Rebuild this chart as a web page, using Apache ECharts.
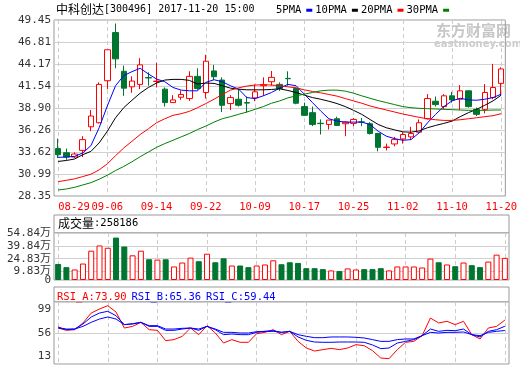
<!DOCTYPE html>
<html>
<head>
<meta charset="utf-8">
<script src="https://cdn.jsdelivr.net/npm/echarts@6/dist/echarts.min.js"></script>
<style>
html, body { margin: 0; padding: 0; background: #fff; }
#main { width: 520px; height: 365px; }
</style>
</head>
<body>
<div id="main"></div>
<script>
const dates = ['08-29','08-30','08-31','09-01','09-04','09-05','09-06','09-07','09-08','09-11','09-12','09-13','09-14','09-15',
  '09-18','09-19','09-20','09-21','09-22','09-25','09-26','09-27','09-28','09-29','10-09','10-10','10-11','10-12','10-13',
  '10-16','10-17','10-18','10-19','10-20','10-23','10-24','10-25','10-26','10-27','10-30','10-31','11-01','11-02','11-03',
  '11-06','11-07','11-08','11-09','11-10','11-13','11-14','11-15','11-16','11-17','11-20']

const opens = [34.03,33.54,33.02,33.82,36.65,37.13,42.17,47.94,43.30,41.44,41.73,42.56,42.08,41.16,39.55,40.19,40.03,42.69,40.76,43.34,
  42.25,39.43,39.95,39.55,40.11,41.57,42.05,41.73,42.45,41.24,39.07,38.34,37.07,36.93,37.61,37.01,37.05,37.23,37.01,35.84,
  34.17,34.59,35.19,35.44,36.00,37.61,39.71,39.07,40.36,39.95,40.96,38.74,38.74,40.15,41.85]
const closes = [33.30,33.02,33.38,35.11,37.94,41.73,45.88,44.79,41.28,42.13,44.07,42.50,42.12,39.55,39.87,40.52,42.69,41.24,44.51,42.65,
  39.23,40.15,39.23,39.49,40.84,41.69,42.57,41.24,42.41,39.47,38.02,36.93,37.03,37.45,36.81,37.21,37.53,37.21,35.84,34.19,
  34.21,35.11,35.72,35.84,37.13,40.03,39.31,40.36,39.87,40.96,39.07,38.14,40.76,41.36,43.58]
const lows = [32.90,32.69,32.90,33.02,36.12,37.05,41.16,43.66,40.36,40.72,41.16,41.57,41.36,39.07,39.55,39.87,39.75,41.08,40.03,42.25,
  38.42,38.66,39.07,38.34,39.71,40.36,41.57,40.96,41.57,39.35,37.94,36.73,35.72,36.32,36.73,35.52,36.73,36.73,35.72,33.70,
  33.82,34.31,34.63,35.11,35.92,37.53,39.07,38.74,39.55,38.66,38.95,37.94,38.26,39.95,40.44]
const highs = [35.23,34.03,33.58,35.52,38.66,41.97,45.88,49.03,43.98,42.69,44.87,43.18,44.31,41.36,40.44,41.00,43.30,43.66,45.28,44.07,
  42.57,40.44,41.08,40.28,41.73,42.57,43.34,41.97,43.30,41.36,39.55,39.07,37.53,37.45,37.86,37.33,37.69,37.69,37.21,35.92,
  34.63,35.44,36.00,36.65,37.53,40.56,40.28,40.56,40.84,41.65,41.00,38.95,41.77,44.19,43.78]

const ma5 = [32.98,33.02,33.10,33.50,34.39,36.53,39.15,41.57,42.78,43.26,43.66,42.98,42.37,42.05,41.36,41.04,40.96,40.96,41.97,42.29,
  42.05,41.57,41.16,40.15,40.03,40.36,40.76,41.28,41.73,41.57,40.56,39.55,38.54,37.61,37.33,37.21,37.21,37.21,36.93,36.12,
  35.52,35.23,35.03,35.11,35.92,37.10,38.14,39.07,39.75,40.07,39.87,39.83,39.95,40.15,40.56]
const ma10 = [32.49,32.61,32.78,33.30,33.70,34.71,36.12,37.73,38.94,39.83,40.68,41.36,41.89,42.25,42.33,42.33,42.21,41.77,41.89,41.85,
  41.57,41.28,41.16,41.08,41.08,41.08,41.12,41.20,41.00,40.76,40.44,40.15,39.95,39.71,39.43,39.07,38.62,38.14,37.53,36.93,
  36.53,36.28,36.04,36.00,36.16,36.53,36.81,37.05,37.33,37.86,38.34,38.74,39.23,39.75,40.44]
const ma20 = [30.07,30.23,30.40,30.68,30.96,31.48,32.21,33.18,34.11,34.91,35.72,36.40,37.13,37.61,38.02,38.22,38.50,38.94,39.43,39.95,
  40.52,41.04,41.32,41.53,41.65,41.69,41.65,41.57,41.44,41.32,41.08,40.88,40.72,40.52,40.32,40.03,39.75,39.47,39.15,38.90,
  38.66,38.42,38.18,37.98,37.78,37.61,37.49,37.41,37.41,37.49,37.61,37.73,37.86,37.98,38.22]
const ma30 = [29.07,29.19,29.39,29.67,29.95,30.36,30.84,31.40,31.89,32.45,33.06,33.62,34.19,34.63,35.03,35.44,35.84,36.32,36.73,37.21,
  37.61,37.86,38.14,38.42,38.74,39.07,39.47,39.75,40.11,40.36,40.56,40.76,40.96,41.04,41.04,40.92,40.68,40.36,40.07,39.79,
  39.55,39.31,39.07,38.94,38.86,38.82,38.78,38.74,38.70,38.66,38.62,38.62,38.62,38.66,38.66]

// 成交量, 万手
const volumes = [18.7,15.0,12.3,19.2,34.2,40.3,37.6,49.5,39.1,28.8,34.2,24.2,23.8,24.2,15.8,20.4,26.1,21.9,30.7,20.7,
  25.3,16.9,16.9,15.0,16.9,18.1,23.0,18.4,20.7,19.9,13.8,13.8,12.7,11.2,10.4,13.5,12.3,12.7,12.7,13.8,
  11.2,15.8,15.8,15.8,14.6,25.0,20.7,18.1,16.1,20.4,17.3,15.0,21.5,29.6,25.82]

const rsiA = [62.9,59.7,60.6,69.9,83.7,89.3,93.9,85.1,62.9,65.2,70.8,60.6,59.7,45.4,46.8,51.4,62.9,53.7,66.2,56.0,
  42.1,46.8,43.1,43.1,55.1,56.9,60.6,53.7,58.3,44.4,35.2,31.0,32.9,34.7,32.9,35.2,39.8,38.4,31.5,21.3,
  20.4,32.9,43.1,44.4,52.3,76.8,69.9,72.2,67.6,72.2,53.7,47.7,62.9,65.2,73.90]
const rsiB = [64.3,60.6,61.5,68.5,78.2,83.7,86.1,80.0,67.6,68.5,70.8,65.2,65.2,59.7,59.7,61.5,62.9,59.7,65.2,60.6,
  53.7,54.6,53.7,53.7,56.9,58.3,59.2,56.9,58.3,50.5,45.8,43.5,43.1,43.1,43.5,43.5,43.5,43.1,39.4,34.3,
  35.2,42.1,44.4,46.8,52.3,61.5,58.3,59.7,59.2,61.5,53.7,50.5,58.3,60.6,65.36]
const rsiC = [62.9,61.5,61.5,65.2,70.8,75.4,78.2,75.4,67.6,68.9,70.8,66.2,66.2,61.5,61.5,62.5,62.9,61.5,65.2,61.5,
  56.9,56.9,56.0,56.0,57.8,58.3,58.3,56.9,58.3,53.7,51.4,49.5,49.5,50.5,50.5,50.5,50.0,49.1,46.8,44.4,
  44.4,46.8,47.7,47.7,52.3,56.9,56.0,56.9,56.9,57.4,53.7,52.3,56.9,58.3,59.44]

const priceTicks = [28.35,30.99,33.62,36.26,38.90,41.54,44.17,46.81,49.45]
const volTicks = [0,9.83,24.83,39.84,54.84]
const rsiTicks = [13,56,99]

const MONO = '"DejaVu Sans Mono", "Noto Sans CJK SC", monospace'
const CJK = '"Noto Sans CJK SC"'
const RED = '#ff0000'
const GREEN = '#007530'
const FRAME = '#999999'

const kData = dates.map((d, i) => [opens[i], closes[i], lows[i], highs[i]])
const volData = volumes.map((v, i) => {
    const up = closes[i] >= opens[i]
    return {
        value: v,
        itemStyle: { color: up ? '#fff' : GREEN, borderColor: up ? RED : GREEN, borderWidth: 1 }
    }
})

const gridL = 54, gridW = 455

function catAxis(idx, showLabel) {
    return {
        type: 'category',
        gridIndex: idx,
        data: dates,
        boundaryGap: true,
        axisLine: { show: false },
        axisTick: { show: false },
        axisLabel: {
            show: showLabel,
            interval: 5,
            margin: 6,
            color: RED,
            fontFamily: MONO,
            fontSize: 10.5,
            formatter: (v, i) => i === 0 ? '{f|' + v + '}' : v,
            rich: { f: { padding: [0, 0, 0, 32], color: RED, fontFamily: MONO, fontSize: 10.5 } }
        },
        splitLine: {
            show: true,
            interval: 5,
            alignWithLabel: true,
            lineStyle: { color: '#cccccc', type: [4, 3], width: 1 }
        }
    }
}

// y轴公共样式
const yLabel = { color: '#333', fontFamily: MONO, fontSize: 11, margin: 3, showMinLabel: true, showMaxLabel: true, hideOverlap: false }

const chart = echarts.init(document.getElementById('main'), null, { renderer: 'canvas' })
chart.setOption({
    animation: false,
    backgroundColor: '#fff',
    title: [
        {
            left: 56, top: 3, padding: 0,
            text: '{c|中科创达}{a|[300496] 2017-11-20 15:00}',
            textStyle: { fontWeight: 'normal', rich: {
                c: { fontFamily: CJK, fontSize: 12, color: '#000', fontWeight: 'normal' },
                a: { fontFamily: MONO, fontSize: 10, color: '#000', fontWeight: 'normal' }
            } }
        },
        {
            left: 58, top: 217, padding: 0,
            text: '{c|成交量}{a|:258186}',
            textStyle: { fontWeight: 'normal', rich: {
                c: { fontFamily: CJK, fontSize: 12, color: '#000', fontWeight: 'normal' },
                a: { fontFamily: MONO, fontSize: 10.5, color: '#000', fontWeight: 'normal' }
            } }
        },
        {
            left: 57, top: 288, padding: 0,
            text: '{r|RSI_A:73.90} {b|RSI_B:65.36} {b|RSI_C:59.44}',
            textStyle: { fontWeight: 'normal', rich: {
                r: { fontFamily: MONO, fontSize: 10.5, color: RED, fontWeight: 'normal' },
                b: { fontFamily: MONO, fontSize: 10.5, color: '#0000ff', fontWeight: 'normal' }
            } }
        }
    ],
    legend: {
        left: 276, top: 5, padding: 0,
        align: 'right',
        icon: 'rect',
        itemWidth: 6, itemHeight: 3, itemGap: 3,
        textStyle: { fontFamily: MONO, fontSize: 10.5, color: '#000' },
        data: ['5PMA', '10PMA', '20PMA', '30PMA']
    },
    graphic: [
        { type: 'rect', shape: { x: gridL, y: 215, width: gridW, height: 18 }, style: { fill: 'none', stroke: FRAME, lineWidth: 1 } },
        { type: 'rect', shape: { x: gridL, y: 287, width: gridW, height: 15 }, style: { fill: 'none', stroke: FRAME, lineWidth: 1 } },
        { type: 'text', x: 436, y: 23, z: -1, style: { text: '东方财富网', font: 'bold 15px "Noto Sans CJK SC"', fill: '#c6c6c6' } },
        { type: 'text', x: 434, y: 39, z: -1, style: { text: 'eastmoney.com', font: 'bold 10px "DejaVu Sans"', fill: '#cccccc' } }
    ],
    grid: [
        { left: gridL, width: gridW, top: 20, height: 176, show: true, borderColor: FRAME, borderWidth: 1 },
        { left: gridL, width: gridW, top: 233, height: 47, show: true, borderColor: FRAME, borderWidth: 1 },
        { left: gridL, width: gridW, top: 302, height: 62, show: true, borderColor: FRAME, borderWidth: 1 }
    ],
    xAxis: [catAxis(0, true), catAxis(1, false), catAxis(2, false)],
    yAxis: [
        {
            type: 'value', gridIndex: 0, min: 28.35, max: 49.45,
            axisLine: { show: false },
            axisTick: { show: false, customValues: priceTicks },
            axisLabel: Object.assign({ customValues: priceTicks, formatter: v => v.toFixed(2) }, yLabel),
            splitLine: { lineStyle: { color: '#d0d0d0' } }
        },
        {
            type: 'value', gridIndex: 1, min: 0, max: 54.84, position: 'left',
            axisLine: { show: false },
            axisTick: { show: false, customValues: volTicks },
            axisLabel: Object.assign({
                customValues: volTicks.slice(1),
                formatter: v => v.toFixed(2) + '万'
            }, yLabel),
            splitLine: { lineStyle: { color: '#d0d0d0' } }
        },
        {
            type: 'value', gridIndex: 2, min: 13, max: 99,
            axisLine: { show: false },
            axisTick: { show: false, customValues: rsiTicks },
            axisLabel: Object.assign({
                customValues: rsiTicks,
                formatter: v => v === 99 ? '{t|99}' : (v === 13 ? '{b|13}' : '56'),
                rich: {
                    t: { padding: [14, 0, 0, 0], color: '#333', fontFamily: MONO, fontSize: 11 },
                    b: { padding: [0, 0, 15, 0], color: '#333', fontFamily: MONO, fontSize: 11 }
                }
            }, yLabel),
            splitLine: { lineStyle: { color: '#d0d0d0' } }
        },
        {
            // 成交量的 0 标签单独一根轴, 避免和 9.83万 互相遮挡
            type: 'value', gridIndex: 1, min: 0, max: 54.84, position: 'left', offset: 0,
            axisLine: { show: false },
            axisTick: { show: false, customValues: [0] },
            axisLabel: Object.assign({ customValues: [0], formatter: () => '0' }, yLabel),
            splitLine: { show: false }
        }
    ],
    series: [
        {
            name: 'K', type: 'candlestick', xAxisIndex: 0, yAxisIndex: 0,
            barWidth: 6,
            data: kData,
            itemStyle: { color: '#fff', color0: GREEN, borderColor: RED, borderColor0: GREEN, borderWidth: 1 }
        },
        { name: '5PMA', type: 'line', xAxisIndex: 0, yAxisIndex: 0, data: ma5, symbol: 'none', color: '#0000ff', lineStyle: { width: 1 } },
        { name: '10PMA', type: 'line', xAxisIndex: 0, yAxisIndex: 0, data: ma10, symbol: 'none', color: '#000000', lineStyle: { width: 1 } },
        { name: '20PMA', type: 'line', xAxisIndex: 0, yAxisIndex: 0, data: ma20, symbol: 'none', color: '#ff0000', lineStyle: { width: 1 } },
        { name: '30PMA', type: 'line', xAxisIndex: 0, yAxisIndex: 0, data: ma30, symbol: 'none', color: '#008000', lineStyle: { width: 1 } },
        { name: '成交量', type: 'bar', xAxisIndex: 1, yAxisIndex: 1, barWidth: 6, data: volData },
        { name: 'RSI_A', type: 'line', xAxisIndex: 2, yAxisIndex: 2, data: rsiA, symbol: 'none', color: RED, lineStyle: { width: 1 } },
        { name: 'RSI_B', type: 'line', xAxisIndex: 2, yAxisIndex: 2, data: rsiB, symbol: 'none', color: '#0000ff', lineStyle: { width: 1 } },
        { name: 'RSI_C', type: 'line', xAxisIndex: 2, yAxisIndex: 2, data: rsiC, symbol: 'none', color: '#0000ff', lineStyle: { width: 1 } }
    ]
})
</script>
</body>
</html>
